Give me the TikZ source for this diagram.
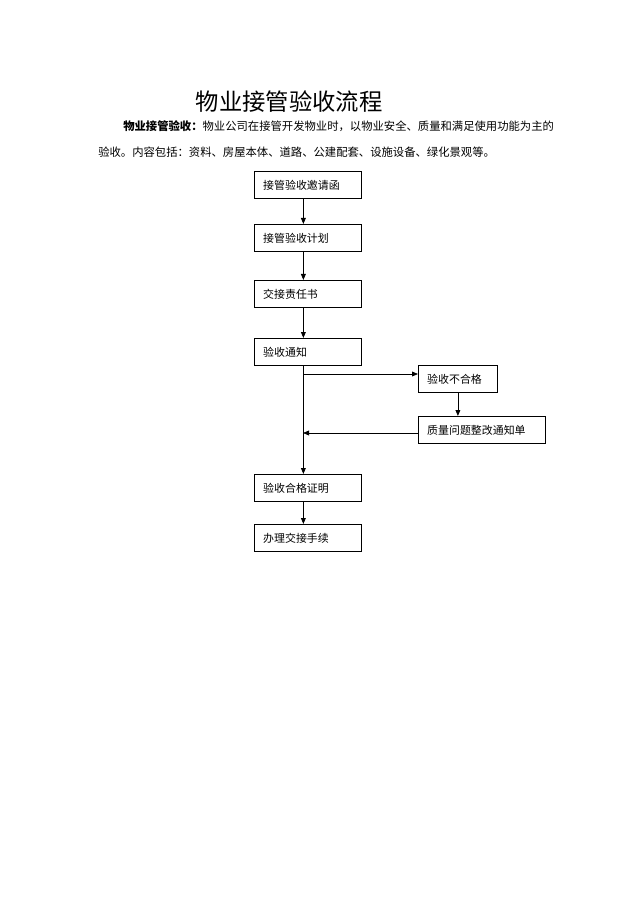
\documentclass[tikz,border=0pt]{standalone}
\usepackage{fontspec}
\setmainfont{Noto Sans CJK SC}
\usepackage{tikz}
\usetikzlibrary{arrows.meta}

\tikzset{
  stepbox/.style={draw, line width=0.6pt, anchor=north west, minimum width=80.25pt, minimum height=20.25pt,
    inner xsep=6.5pt, text width=67pt, align=left, font=\fontsize{8.2}{9}\selectfont},
  flow/.style={line width=0.6pt, -{Triangle[length=4.5pt,width=3.6pt]}},
}

\begin{document}
\begin{tikzpicture}[x=0.75pt,y=0.75pt,yscale=-1.,xscale=1.]
    %set diagram to the page: 640 x 905
    \useasboundingbox (0,0) rectangle (640,905);

    % Title
    \node (title) at (289,102) [font=\fontsize{17.5}{20}\selectfont] {物业接管验收流程};
    % Text Node
    \node (line1) at (123,126) [anchor=west, inner sep=0pt, font=\fontsize{8.5}{10}\selectfont] {\textbf{物业接管验收：}物业公司在接管开发物业时，以物业安全、质量和满足使用功能为主的};
    % Text Node
    \node (line2) at (98,152) [anchor=west, inner sep=0pt, font=\fontsize{8.5}{10}\selectfont] {验收。内容包括：资料、房屋本体、道路、公建配套、设施设备、绿化景观等。};

    %Boxes
    \node [stepbox] (invite) at (254,171) {接管验收邀请函};
    \node [stepbox] (plan) at (254,224) {接管验收计划};
    \node [stepbox] (duty) at (254,280) {交接责任书};
    \node [stepbox] (notice) at (254,338) {验收通知};
    \node [stepbox, minimum width=59.25pt, text width=46pt] (fail) at (418,365) {验收不合格};
    \node [stepbox, minimum width=95.25pt, text width=82pt] (fix) at (418,416) {质量问题整改通知单};
    \node [stepbox] (pass) at (254,474) {验收合格证明};
    \node [stepbox] (handover) at (254,524) {办理交接手续};

    %Trunk points
    \coordinate (split) at (303,374);
    \coordinate (join) at (303,433);

    %Straight Lines
    \draw [flow] ([xshift=-3.4pt]invite.south) -- ([xshift=-3.4pt]plan.north);
    \draw [flow] ([xshift=-3.4pt]plan.south) -- ([xshift=-3.4pt]duty.north);
    \draw [flow] ([xshift=-3.4pt]duty.south) -- ([xshift=-3.4pt]notice.north);
    \draw [flow] ([xshift=-3.4pt]notice.south) -- ([xshift=-3.4pt]pass.north);
    \draw [flow] ([xshift=-3.4pt]pass.south) -- ([xshift=-3.4pt]handover.north);
    \draw [flow] (split) -- (fail.west |- split);
    \draw [flow] (fail.south) -- (fix.north -| fail.south);
    \draw [flow] (fix.west |- join) -- (join);

\end{tikzpicture}
\end{document}
